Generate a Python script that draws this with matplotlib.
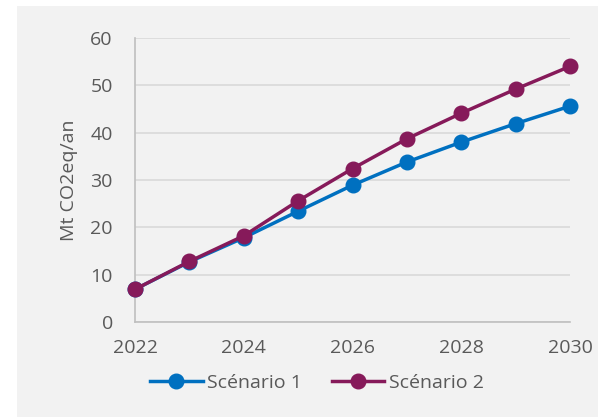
import matplotlib.pyplot as plt
from matplotlib.patches import Rectangle

# data
years = [2022, 2023, 2024, 2025, 2026, 2027, 2028, 2029, 2030]
scenario_1 = [6.9, 12.7, 17.8, 23.4, 28.9, 33.8, 38.0, 41.9, 45.6]
scenario_2 = [6.9, 12.8, 18.2, 25.6, 32.4, 38.7, 44.1, 49.2, 54.0]
labels = ["Scénario 1", "Scénario 2"]
colors = ["#0070C0", "#861A5A"]

plt.rcParams["font.family"] = ["Open Sans", "DejaVu Sans"]
text_color = "#595959"

fig = plt.figure(figsize=(5.98, 4.17), dpi=100)
fig.patch.set_facecolor("white")
# light gray chart area
fig.patches.append(Rectangle((17 / 598, 0), 1 - 17 / 598, (417 - 6) / 417,
                             transform=fig.transFigure, facecolor="#F2F2F2",
                             edgecolor="none", zorder=-10))

ax = fig.add_axes([135 / 598, 95 / 417, 435 / 598, 284 / 417])
ax.set_facecolor("#F2F2F2")

for vals, lab, col in zip([scenario_1, scenario_2], labels, colors):
    ax.plot(years, vals, color=col, linewidth=2.5, marker="o",
            markersize=10.5, label=lab, clip_on=False, zorder=3)

ax.set_xlim(2022, 2030)
ax.set_ylim(0, 60)
ax.set_xticks([2022, 2024, 2026, 2028, 2030])
ax.set_yticks(range(0, 61, 10))
ax.grid(axis="y", color="#D9D9D9", linewidth=1.2)
ax.set_axisbelow(True)
for s in ["top", "right"]:
    ax.spines[s].set_visible(False)
ax.spines["left"].set_color("#BFBFBF")
ax.spines["bottom"].set_color("#BFBFBF")
ax.spines["left"].set_linewidth(1.2)
ax.spines["bottom"].set_linewidth(1.2)
ax.tick_params(axis="y", length=0, pad=16, labelsize=14, labelcolor=text_color)
ax.tick_params(axis="x", length=0, pad=12, labelsize=14, labelcolor=text_color)

ax.set_ylabel("Mt CO2eq/an", fontsize=14, color=text_color)
ax.yaxis.set_label_coords(-0.13, 0.5)

fig.legend(loc="center", bbox_to_anchor=(317 / 598, 1 - 383 / 417),
           ncol=2, frameon=False, fontsize=14, labelcolor=text_color,
           handlelength=2.7, handletextpad=0.25, columnspacing=1.5)

fig.savefig("out.png", dpi=100)
